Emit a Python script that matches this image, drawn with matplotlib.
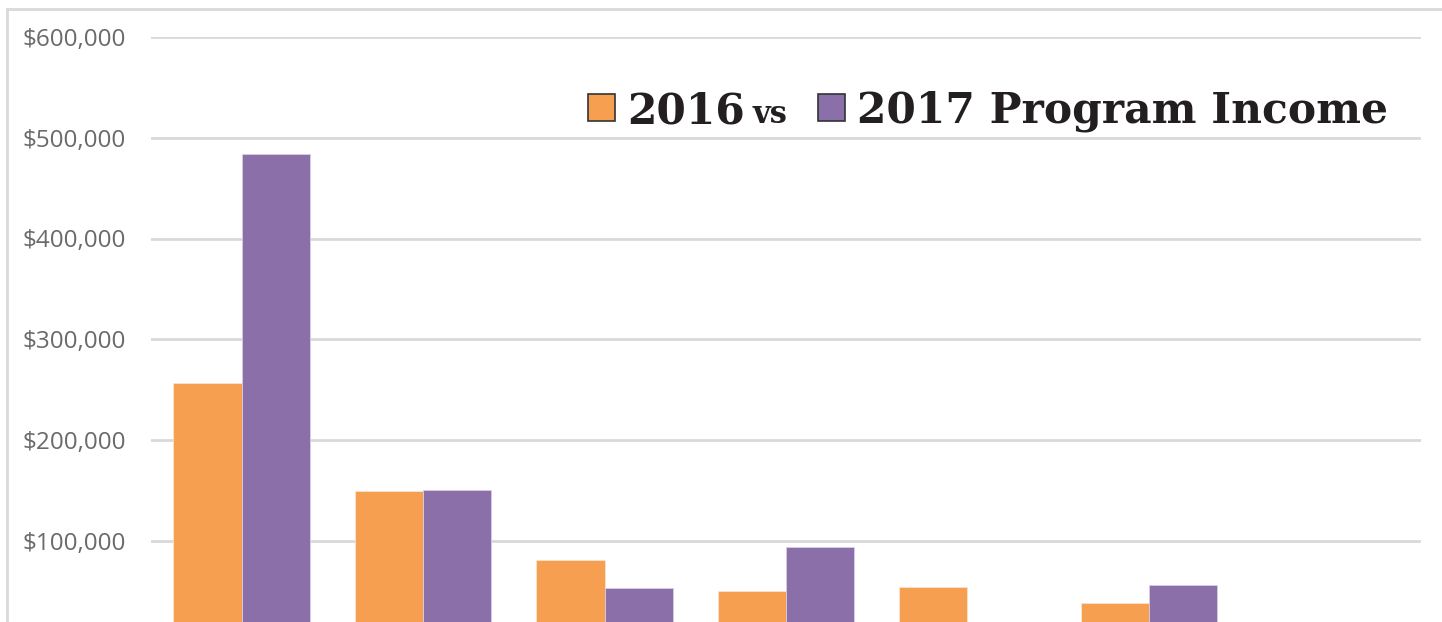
import numpy as np
import matplotlib
matplotlib.use("Agg")
import matplotlib.pyplot as plt
from matplotlib.patches import Rectangle
from matplotlib.lines import Line2D
from matplotlib.ticker import FuncFormatter

# --- data ---
categories = ["A", "B", "C", "D", "E", "F", "G"]
income_2016 = [257000, 149000, 81000, 50000, 54000, 38000, 0]
income_2017 = [484000, 150500, 53000, 93500, 0, 56000, 0]
y_ticks = [100000, 200000, 300000, 400000, 500000, 600000]

ORANGE = "#F79F51"
PURPLE = "#8A6FA8"
GRID = "#D9D9D9"

W, H = 1442, 622
fig = plt.figure(figsize=(W / 100, H / 100), dpi=100)

# axes placed in pixel terms; the zero line falls below the picture
x0, x1 = 151, 1421
y_top, y_zero = 37, 641.5
ax = fig.add_axes([x0 / W, (H - y_zero) / H, (x1 - x0) / W, (y_zero - y_top) / H])

x = np.arange(len(categories))
bw = 0.376
ax.bar(x - bw / 2, income_2016, bw, color=ORANGE, edgecolor="#FBE3CF", linewidth=0.6, zorder=3)
ax.bar(x + bw / 2, income_2017, bw, color=PURPLE, edgecolor="#D9CDE6", linewidth=0.6, zorder=3)

ax.set_xlim(-0.5, len(categories) - 0.5)
ax.set_ylim(0, 600000)
ax.set_yticks(y_ticks)
ax.yaxis.set_major_formatter(FuncFormatter(lambda v, p: f"${v:,.0f}"))
ax.grid(axis="y", color=GRID, linewidth=2, zorder=0)
ax.set_axisbelow(True)
for s in ax.spines.values():
    s.set_visible(False)
ax.tick_params(axis="y", length=0, pad=18, labelsize=17.5, labelcolor="#6A6A6A")
for lab in ax.get_yticklabels():
    lab.set_fontfamily("Open Sans")
ax.set_xticks([])

# outer chart frame (left and top edges only visible)
fig.add_artist(Line2D([7 / W, 7 / W], [0, 1 - 8.5 / H], transform=fig.transFigure,
                      color=GRID, linewidth=2))
fig.add_artist(Line2D([7 / W, 1], [1 - 8.5 / H, 1 - 8.5 / H], transform=fig.transFigure,
                      color=GRID, linewidth=2))

# legend-style title built from squares and text
def px(xp, yp):
    return xp / W, 1 - yp / H

title_kw = dict(fontfamily="DejaVu Serif", fontweight="bold", color="#231F20",
                va="baseline", ha="left")
base_y = 123
fig.add_artist(Rectangle(px(588, 121), 27 / W, 27 / H, transform=fig.transFigure,
                         facecolor=ORANGE, edgecolor="#333333", linewidth=1.2))
fig.text(*px(627, base_y), "2016", fontsize=30.5, **title_kw)
fig.text(*px(752, base_y), "vs", fontsize=22, **title_kw)
fig.add_artist(Rectangle(px(818, 121), 27 / W, 27 / H, transform=fig.transFigure,
                         facecolor=PURPLE, edgecolor="#333333", linewidth=1.2))
fig.text(*px(857, base_y), "2017 Program Income", fontsize=30.5, **title_kw)

fig.savefig("out.png", dpi=100, facecolor="white")
